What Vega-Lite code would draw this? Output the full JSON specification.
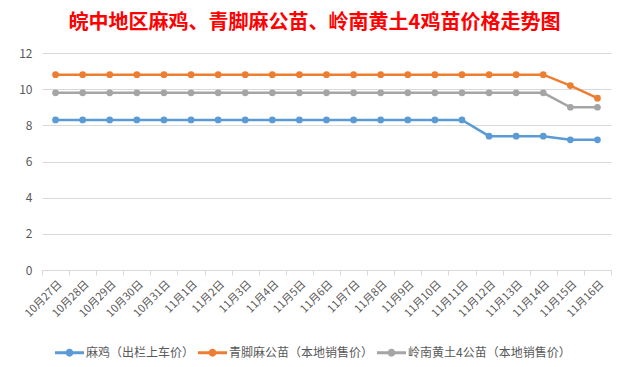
{
  "$schema": "https://vega.github.io/schema/vega-lite/v6.json",
  "width": 569,
  "height": 217,
  "autosize": {"type": "none"},
  "padding": {"left": 42, "top": 53, "right": 18, "bottom": 97},
  "background": "white",
  "title": {
    "text": "皖中地区麻鸡、青脚麻公苗、岭南黄土4鸡苗价格走势图",
    "color": "#FF0000",
    "fontSize": 20,
    "fontWeight": "bold",
    "font": "Noto Sans CJK SC",
    "anchor": "middle",
    "frame": "group",
    "dx": -12,
    "offset": 14
  },
  "data": {
    "values": [
      {"date": "10月27日", "series": "麻鸡（出栏上车价）", "price": 8.3},
      {"date": "10月28日", "series": "麻鸡（出栏上车价）", "price": 8.3},
      {"date": "10月29日", "series": "麻鸡（出栏上车价）", "price": 8.3},
      {"date": "10月30日", "series": "麻鸡（出栏上车价）", "price": 8.3},
      {"date": "10月31日", "series": "麻鸡（出栏上车价）", "price": 8.3},
      {"date": "11月1日", "series": "麻鸡（出栏上车价）", "price": 8.3},
      {"date": "11月2日", "series": "麻鸡（出栏上车价）", "price": 8.3},
      {"date": "11月3日", "series": "麻鸡（出栏上车价）", "price": 8.3},
      {"date": "11月4日", "series": "麻鸡（出栏上车价）", "price": 8.3},
      {"date": "11月5日", "series": "麻鸡（出栏上车价）", "price": 8.3},
      {"date": "11月6日", "series": "麻鸡（出栏上车价）", "price": 8.3},
      {"date": "11月7日", "series": "麻鸡（出栏上车价）", "price": 8.3},
      {"date": "11月8日", "series": "麻鸡（出栏上车价）", "price": 8.3},
      {"date": "11月9日", "series": "麻鸡（出栏上车价）", "price": 8.3},
      {"date": "11月10日", "series": "麻鸡（出栏上车价）", "price": 8.3},
      {"date": "11月11日", "series": "麻鸡（出栏上车价）", "price": 8.3},
      {"date": "11月12日", "series": "麻鸡（出栏上车价）", "price": 7.4},
      {"date": "11月13日", "series": "麻鸡（出栏上车价）", "price": 7.4},
      {"date": "11月14日", "series": "麻鸡（出栏上车价）", "price": 7.4},
      {"date": "11月15日", "series": "麻鸡（出栏上车价）", "price": 7.2},
      {"date": "11月16日", "series": "麻鸡（出栏上车价）", "price": 7.2},
      {"date": "10月27日", "series": "青脚麻公苗（本地销售价）", "price": 10.8},
      {"date": "10月28日", "series": "青脚麻公苗（本地销售价）", "price": 10.8},
      {"date": "10月29日", "series": "青脚麻公苗（本地销售价）", "price": 10.8},
      {"date": "10月30日", "series": "青脚麻公苗（本地销售价）", "price": 10.8},
      {"date": "10月31日", "series": "青脚麻公苗（本地销售价）", "price": 10.8},
      {"date": "11月1日", "series": "青脚麻公苗（本地销售价）", "price": 10.8},
      {"date": "11月2日", "series": "青脚麻公苗（本地销售价）", "price": 10.8},
      {"date": "11月3日", "series": "青脚麻公苗（本地销售价）", "price": 10.8},
      {"date": "11月4日", "series": "青脚麻公苗（本地销售价）", "price": 10.8},
      {"date": "11月5日", "series": "青脚麻公苗（本地销售价）", "price": 10.8},
      {"date": "11月6日", "series": "青脚麻公苗（本地销售价）", "price": 10.8},
      {"date": "11月7日", "series": "青脚麻公苗（本地销售价）", "price": 10.8},
      {"date": "11月8日", "series": "青脚麻公苗（本地销售价）", "price": 10.8},
      {"date": "11月9日", "series": "青脚麻公苗（本地销售价）", "price": 10.8},
      {"date": "11月10日", "series": "青脚麻公苗（本地销售价）", "price": 10.8},
      {"date": "11月11日", "series": "青脚麻公苗（本地销售价）", "price": 10.8},
      {"date": "11月12日", "series": "青脚麻公苗（本地销售价）", "price": 10.8},
      {"date": "11月13日", "series": "青脚麻公苗（本地销售价）", "price": 10.8},
      {"date": "11月14日", "series": "青脚麻公苗（本地销售价）", "price": 10.8},
      {"date": "11月15日", "series": "青脚麻公苗（本地销售价）", "price": 10.2},
      {"date": "11月16日", "series": "青脚麻公苗（本地销售价）", "price": 9.5},
      {"date": "10月27日", "series": "岭南黄土4公苗（本地销售价）", "price": 9.8},
      {"date": "10月28日", "series": "岭南黄土4公苗（本地销售价）", "price": 9.8},
      {"date": "10月29日", "series": "岭南黄土4公苗（本地销售价）", "price": 9.8},
      {"date": "10月30日", "series": "岭南黄土4公苗（本地销售价）", "price": 9.8},
      {"date": "10月31日", "series": "岭南黄土4公苗（本地销售价）", "price": 9.8},
      {"date": "11月1日", "series": "岭南黄土4公苗（本地销售价）", "price": 9.8},
      {"date": "11月2日", "series": "岭南黄土4公苗（本地销售价）", "price": 9.8},
      {"date": "11月3日", "series": "岭南黄土4公苗（本地销售价）", "price": 9.8},
      {"date": "11月4日", "series": "岭南黄土4公苗（本地销售价）", "price": 9.8},
      {"date": "11月5日", "series": "岭南黄土4公苗（本地销售价）", "price": 9.8},
      {"date": "11月6日", "series": "岭南黄土4公苗（本地销售价）", "price": 9.8},
      {"date": "11月7日", "series": "岭南黄土4公苗（本地销售价）", "price": 9.8},
      {"date": "11月8日", "series": "岭南黄土4公苗（本地销售价）", "price": 9.8},
      {"date": "11月9日", "series": "岭南黄土4公苗（本地销售价）", "price": 9.8},
      {"date": "11月10日", "series": "岭南黄土4公苗（本地销售价）", "price": 9.8},
      {"date": "11月11日", "series": "岭南黄土4公苗（本地销售价）", "price": 9.8},
      {"date": "11月12日", "series": "岭南黄土4公苗（本地销售价）", "price": 9.8},
      {"date": "11月13日", "series": "岭南黄土4公苗（本地销售价）", "price": 9.8},
      {"date": "11月14日", "series": "岭南黄土4公苗（本地销售价）", "price": 9.8},
      {"date": "11月15日", "series": "岭南黄土4公苗（本地销售价）", "price": 9.0},
      {"date": "11月16日", "series": "岭南黄土4公苗（本地销售价）", "price": 9.0}
    ]
  },
  "mark": {
    "type": "line",
    "strokeWidth": 2.5,
    "point": {"filled": true, "size": 45, "opacity": 1}
  },
  "encoding": {
    "x": {
      "field": "date",
      "type": "nominal",
      "sort": null,
      "scale": {"type": "band", "paddingInner": 0, "paddingOuter": 0},
      "axis": {
        "title": null,
        "labelAngle": -45,
        "labelFontSize": 11,
        "labelColor": "#595959",
        "labelFont": "Noto Sans CJK SC",
        "domainColor": "#d9d9d9",
        "tickColor": "#d9d9d9",
        "tickSize": 5,
        "tickBand": "extent",
        "grid": false,
        "labelPadding": 3
      }
    },
    "y": {
      "field": "price",
      "type": "quantitative",
      "scale": {"domain": [0, 12], "nice": false},
      "axis": {
        "title": null,
        "values": [0, 2, 4, 6, 8, 10, 12],
        "domain": false,
        "ticks": false,
        "gridColor": "#d9d9d9",
        "labelColor": "#595959",
        "labelFontSize": 12,
        "labelFont": "Noto Sans CJK SC",
        "labelPadding": 10
      }
    },
    "color": {
      "field": "series",
      "type": "nominal",
      "sort": null,
      "scale": {
        "domain": ["麻鸡（出栏上车价）", "青脚麻公苗（本地销售价）", "岭南黄土4公苗（本地销售价）"],
        "range": ["#5B9BD5", "#ED7D31", "#A5A5A5"]
      },
      "legend": {
        "title": null,
        "orient": "none",
        "direction": "horizontal",
        "legendX": 13,
        "legendY": 285,
        "labelFontSize": 12,
        "labelColor": "#595959",
        "labelFont": "Noto Sans CJK SC",
        "labelLimit": 400,
        "symbolType": "M-1,-0.1H1V0.1H-1Z M0.27,0A0.27,0.27 0 1,1 -0.27,0A0.27,0.27 0 1,1 0.27,0Z",
        "symbolSize": 841,
        "symbolStrokeWidth": 0,
        "symbolOpacity": 1,
        "columnPadding": 3,
        "labelOffset": 2
      }
    }
  },
  "config": {
    "view": {"stroke": null},
    "font": "Noto Sans CJK SC"
  }
}
